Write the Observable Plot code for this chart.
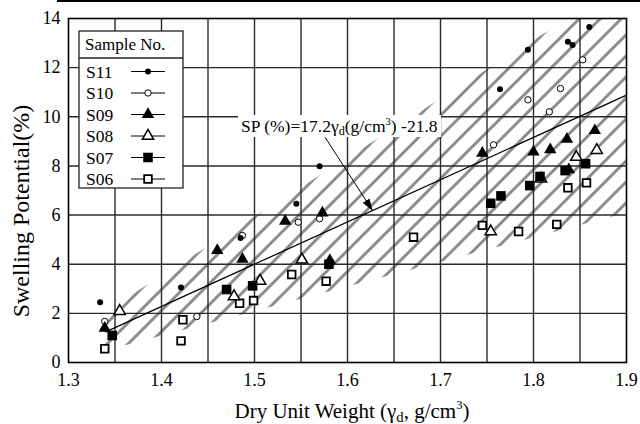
<!DOCTYPE html>
<html><head><meta charset="utf-8">
<script src="https://cdn.jsdelivr.net/npm/d3@7"></script>
<script src="https://cdn.jsdelivr.net/npm/@observablehq/plot@0.6"></script>
<style>
html,body{margin:0;padding:0;background:#fff;}
#wrap{position:relative;width:640px;height:424px;overflow:hidden;font-family:"Liberation Serif","Liberation Sans",Arial,sans-serif;color:#000;}
#wrap svg{position:absolute;left:0;top:0;}
.topline{position:absolute;left:57px;top:0;width:583px;height:2px;background:#000;}
.xlabel{position:absolute;top:401px;font-size:21px;line-height:1;white-space:nowrap;transform:translateX(-50%);}
.xlabel sub{font-size:0.7em;line-height:0;vertical-align:-0.25em;}
.xlabel sup{font-size:0.6em;line-height:0;vertical-align:0.7em;}
.ann{position:absolute;background:#fff;font-size:17.5px;line-height:22px;height:22px;padding:0 3px;white-space:nowrap;}
.ann sub{font-size:0.7em;line-height:0;vertical-align:-0.25em;}
.ann sup{font-size:0.6em;line-height:0;vertical-align:0.7em;}
</style></head><body><div id="wrap"></div>
<script>
const FONT = '"Liberation Serif","Liberation Sans",Arial,sans-serif';
// ---- data ----
const samples = ["S11","S10","S09","S08","S07","S06"];
const s11X = [1.334,1.421,1.485,1.545,1.570,1.764,1.794,1.837,1.842,1.860];
const s11Y = [2.45,3.05,5.07,6.46,7.99,11.12,12.73,13.05,12.92,13.65];
const s10X = [1.339,1.438,1.487,1.547,1.570,1.757,1.794,1.817,1.829,1.853];
const s10Y = [1.67,1.87,5.17,5.71,5.85,8.86,10.69,10.20,11.15,12.32];
const s09X = [1.339,1.460,1.487,1.533,1.573,1.581,1.745,1.800,1.818,1.836,1.838,1.866];
const s09Y = [1.40,4.56,4.21,5.75,6.09,4.15,8.52,8.57,8.66,9.09,7.85,9.44];
const s08X = [1.355,1.478,1.506,1.551,1.754,1.808,1.846,1.868];
const s08Y = [2.09,2.69,3.32,4.18,5.33,7.48,8.36,8.64];
const s07X = [1.347,1.470,1.498,1.580,1.754,1.765,1.796,1.807,1.834,1.856];
const s07Y = [1.10,2.97,3.12,4.00,6.48,6.78,7.20,7.57,7.81,8.09];
const s06X = [1.339,1.421,1.423,1.484,1.499,1.540,1.577,1.671,1.745,1.784,1.825,1.837,1.857];
const s06Y = [0.56,0.88,1.74,2.41,2.52,3.58,3.31,5.10,5.58,5.33,5.62,7.11,7.31];

const xTicks = [1.3,1.4,1.5,1.6,1.7,1.8,1.9];
const yTicks = [0,2,4,6,8,10,12,14];
const gridX = [1.35,1.4,1.45,1.5,1.55,1.6,1.65,1.7,1.75,1.8,1.85];
const gridY = [2,4,6,8,10,12];

// regression line SP = 17.2*gd - 21.8 (end points)
const fitX = [1.34, 1.90];
const fitY = [1.25, 10.88];

// hatched band (boundaries)
const bandX    = [1.335,1.40,1.50,1.60,1.70,1.80,1.84,1.90];
const bandLow  = [0.42,1.07,2.07,3.07,4.07,5.07,5.47,6.07];
const bandHigh = [1.94,3.50,5.90,8.30,10.70,13.10,14.0,14.0];

// annotation
const eqHTML = 'SP (%)=17.2γ<sub>d</sub>(g/cm<sup>3</sup>) -21.8';
const eqBox = {x: 1.4828, y: 10.05};
const arrowFrom = {x: 1.576, y: 9.16};
const arrowTo = {x: 1.627, y: 6.18};

const xLabelHTML = 'Dry Unit Weight (γ<sub>d</sub>, g/cm<sup>3</sup>)';
const yLabel = 'Swelling Potential(%)';

// ---- build tables ----
const xs = [s11X,s10X,s09X,s08X,s07X,s06X];
const ys = [s11Y,s10Y,s09Y,s08Y,s07Y,s06Y];
const pts = samples.map((s,i)=>xs[i].map((x,j)=>({sample:s,x,y:ys[i][j]})));
const band = bandX.map((x,i)=>({x,lo:bandLow[i],hi:bandHigh[i]}));
const fit = fitX.map((x,i)=>({x,y:fitY[i]}));

const sty = {
  S11:{symbol:"circle",fill:"black",stroke:"none",r:3,sw:0},
  S10:{symbol:"circle",fill:"white",stroke:"black",r:3.2,sw:1},
  S09:{symbol:"triangle",fill:"black",stroke:"none",r:4.6,sw:0},
  S08:{symbol:"triangle",fill:"white",stroke:"black",r:4.2,sw:1.5},
  S07:{symbol:"square",fill:"black",stroke:"none",r:5.4,sw:0},
  S06:{symbol:"square",fill:"white",stroke:"black",r:4.3,sw:1.8}
};
const drawOrder = ["S06","S08","S10","S07","S09","S11"];

const svg = Plot.plot({
  width:640, height:424,
  marginTop:18, marginBottom:62, marginLeft:68, marginRight:14,
  style:{fontFamily:FONT, fontSize:"18px", color:"black", background:"transparent"},
  x:{domain:[1.3,1.9], ticks:xTicks, tickFormat:d3.format(".1f"), tickSize:0, tickPadding:11, label:null},
  y:{domain:[0,14], ticks:yTicks, tickSize:0, tickPadding:8, label:null},
  marks:[
    Plot.areaY(band,{x:"x", y1:"lo", y2:"hi", fill:"url(#hatch)"}),
    Plot.ruleX(gridX,{stroke:"#2a2a2a", strokeWidth:1.4}),
    Plot.ruleY(gridY,{stroke:"#2a2a2a", strokeWidth:1.4}),
    Plot.line(fit,{x:"x", y:"y", stroke:"black", strokeWidth:1.3}),
    Plot.link([0],{x1:()=>arrowFrom.x, y1:()=>arrowFrom.y, x2:()=>arrowTo.x, y2:()=>arrowTo.y, stroke:"black", strokeWidth:1}),
    ...drawOrder.map(s=>{
      const st = sty[s];
      return Plot.dot(pts[samples.indexOf(s)],{x:"x", y:"y", symbol:st.symbol, r:st.r, fill:st.fill, stroke:st.stroke, strokeWidth:st.sw});
    }),
    Plot.text([yLabel],{frameAnchor:"left", text:d=>d, rotate:-90, textAnchor:"middle", lineAnchor:"middle", dx:-47.5, dy:20.5, fontSize:24}),
    Plot.frame({stroke:"black", strokeWidth:1.6})
  ]
});

// defs: hatch pattern + filled arrow head
const NS = "http://www.w3.org/2000/svg";
const defs = document.createElementNS(NS,"defs");
defs.innerHTML = `
<pattern id="hatch" patternUnits="userSpaceOnUse" width="21" height="21" x="10" y="0">
  <path d="M-2,2 L2,-2 M0,21 L21,0 M19,23 L23,19" stroke="#8c8c8c" stroke-width="3" stroke-linecap="square"/>
</pattern>
<marker id="ahead" viewBox="0 0 12 8" refX="12" refY="4" markerWidth="12" markerHeight="8" markerUnits="userSpaceOnUse" orient="auto">
  <path d="M0,0 L12,4 L0,8 z" fill="black"/>
</marker>`;
svg.insertBefore(defs, svg.firstChild);
svg.querySelectorAll('g[aria-label="area"] path').forEach(p=>p.setAttribute("fill","url(#hatch)"));
svg.querySelectorAll('g[aria-label="link"] path, g[aria-label="link"] line').forEach(p=>p.setAttribute("marker-end","url(#ahead)"));

const wrap = document.getElementById("wrap");
wrap.appendChild(svg);
const sx = svg.scale("x"), sy = svg.scale("y");

// top rule of page
const tl = document.createElement("div"); tl.className="topline"; wrap.appendChild(tl);

// x label
const xl = document.createElement("div"); xl.className="xlabel"; xl.innerHTML = xLabelHTML;
xl.style.left = "352px"; wrap.appendChild(xl);

// equation annotation
const an = document.createElement("div"); an.className="ann"; an.innerHTML = eqHTML;
an.style.left = sx.apply(eqBox.x)+"px"; an.style.top = sy.apply(eqBox.y)+"px";
wrap.appendChild(an);

// legend
const lg = d3.select(wrap).append("svg")
  .attr("width",106).attr("height",159)
  .style("left","78px").style("top","30px")
  .style("font-family",FONT);
lg.append("rect").attr("x",1).attr("y",1).attr("width",104).attr("height",157)
  .attr("fill","white").attr("stroke","#222").attr("stroke-width",1.3);
lg.append("line").attr("x1",1).attr("x2",105).attr("y1",28).attr("y2",28).attr("stroke","#222").attr("stroke-width",1.3);
lg.append("text").attr("x",7).attr("y",20).attr("font-size",17).text("Sample No.");
samples.forEach((s,i)=>{
  const cy = 41.5 + i*21.5, st = sty[s];
  lg.append("text").attr("x",8).attr("y",cy+6.3).attr("font-size",17.5).text(s);
  lg.append("line").attr("x1",53).attr("x2",87).attr("y1",cy).attr("y2",cy).attr("stroke","black").attr("stroke-width",1);
  const type = st.symbol==="circle"?d3.symbolCircle:st.symbol==="triangle"?d3.symbolTriangle:d3.symbolSquare;
  lg.append("path").attr("transform",`translate(70,${cy})`)
    .attr("d",d3.symbol(type, st.r*st.r*Math.PI)())
    .attr("fill",st.fill).attr("stroke",st.stroke).attr("stroke-width",st.sw);
});
</script></body></html>
